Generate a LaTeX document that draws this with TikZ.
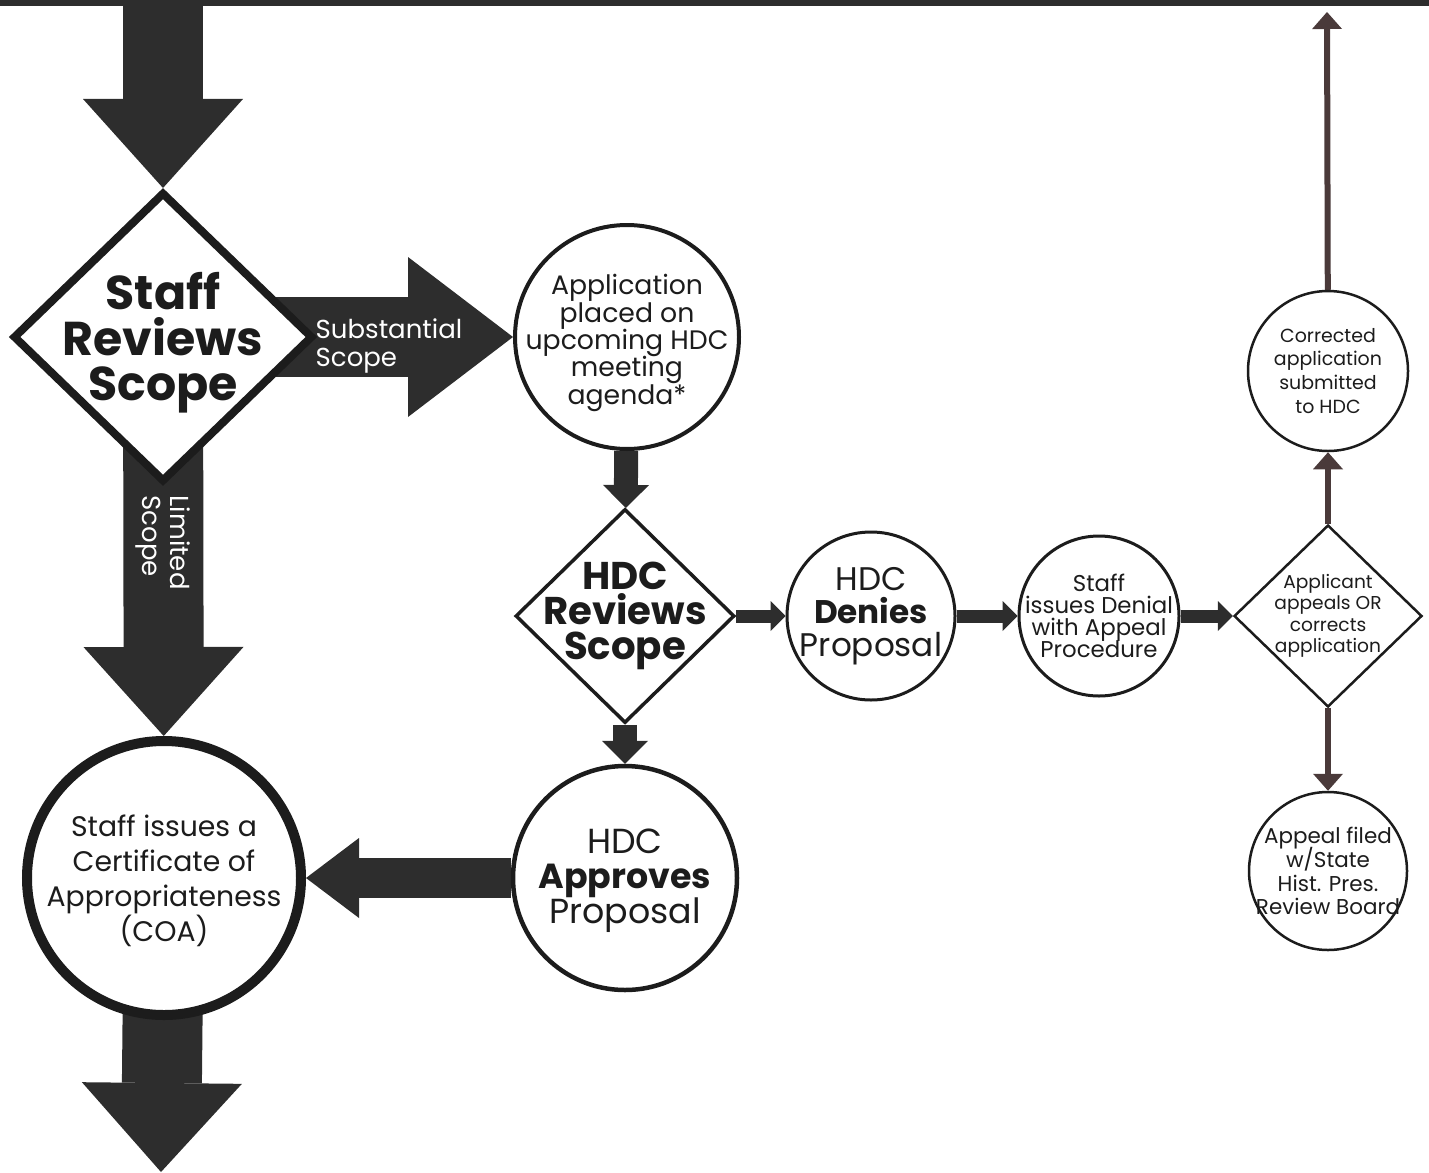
\documentclass[tikz,border=0pt]{standalone}
\usepackage{fontspec}
\setmainfont{Poppins}
\usepackage{tikz}
\usetikzlibrary{shapes.geometric,arrows.meta,backgrounds}

\definecolor{ink}{RGB}{28,28,28}
\definecolor{arrowgray}{RGB}{45,45,45}
\definecolor{brownink}{RGB}{74,58,58}

% font sizes of the labels
\lineskiplimit=-20pt
\newcommand{\fsStaff}{\bfseries\fontsize{13.5}{13}\selectfont}
\newcommand{\fsArrow}{\fontsize{7.4}{7.8}\selectfont}
\newcommand{\fsApp}{\fontsize{7.6}{7.8}\selectfont}
\newcommand{\fsHdc}{\bfseries\fontsize{11}{10}\selectfont}
\newcommand{\fsMid}{\fontsize{9.9}{10}\selectfont}
\newcommand{\fsDen}{\fontsize{9.3}{9.4}\selectfont}
\newcommand{\fsSmall}{\fontsize{6.5}{6.3}\selectfont}
\newcommand{\fsTiny}{\fontsize{5.3}{6.1}\selectfont}
\newcommand{\fsCorr}{\fontsize{5.4}{6.8}\selectfont}
\newcommand{\fsAppeal}{\fontsize{6.1}{6.8}\selectfont}
\newcommand{\fsCoa}{\fontsize{8.05}{10}\selectfont}

\begin{document}
\begin{tikzpicture}[
	box/.style={draw=ink, fill=white, inner sep=0pt},
	dia/.style={box, diamond},
	circ/.style={box, circle},
	lbl/.style={align=center, text=ink, inner sep=0pt},
	fatarrow/.style={draw=arrowgray, line width=0.8cm, -{Triangle[width=1.6cm,length=#1,line width=0pt]}},
	fatarrow/.default=0.89cm,
	midarrow/.style={draw=arrowgray, line width=0.4cm, -{Triangle[width=0.8cm,length=0.53cm,line width=0pt]}},
	smallarrow/.style={draw=arrowgray, line width=0.24cm, -{Triangle[width=0.46cm,length=0.23cm,line width=0pt]}},
	tinyarrow/.style={draw=arrowgray, line width=0.13cm, -{Triangle[width=0.3cm,length=0.15cm,line width=0pt]}},
	linkarrow/.style={draw=brownink, line width=0.06cm, -{Triangle[width=0.3cm,length=0.17cm,line width=0pt]}}]
	\useasboundingbox (0,0) rectangle (14.29,-11.72);
	\fill[arrowgray] (0,0) rectangle (14.29,-0.06);

	\coordinate (top) at (1.63,0);
	\coordinate (bottom) at (1.61,-11.72);
	\coordinate (exit) at (13.27,-0.12);

	% left column
	\node[dia, line width=0.08cm, minimum width=3.0cm, minimum height=2.9cm,
		label={[lbl, font=\fsStaff, yshift=-0.06cm]center:Staff\\Reviews\\Scope}] (staff) at (1.63,-3.37) {};
	\node[circ, line width=0.1cm, minimum size=2.74cm,
		label={[lbl, font=\fsCoa, yshift=-0.03cm]center:Staff issues a\\Certificate of\\Appropriateness\\(COA)}] (coa) at (1.64,-8.78) {};
	\node[lbl, text=white, align=left, anchor=west, font=\fsArrow] (subst) at (3.15,-3.46) {Substantial\\Scope};
	\node[lbl, text=white, align=left, anchor=west, rotate=-90, font=\fsArrow] (limited) at (1.63,-4.95) {Limited\\Scope};

	% HDC column
	\node[circ, line width=0.04cm, minimum size=2.24cm,
		label={[lbl, font=\fsApp, yshift=-0.06cm]center:Application\\placed on\\upcoming HDC\\meeting\\agenda*}] (apply) at (6.27,-3.37) {};
	\node[dia, line width=0.035cm, minimum width=2.19cm, minimum height=2.14cm,
		label={[lbl, font=\fsHdc]center:HDC\\Reviews\\Scope}] (hdcrev) at (6.25,-6.16) {};
	\node[circ, line width=0.045cm, minimum size=2.24cm,
		label={[lbl, font=\fsMid, yshift=-0.03cm]center:HDC\\\textbf{Approves}\\Proposal}] (approves) at (6.25,-8.78) {};

	% denial row
	\node[circ, line width=0.03cm, minimum size=1.68cm,
		label={[lbl, font=\fsDen]center:HDC\\\textbf{Denies}\\Proposal}] (denies) at (8.71,-6.16) {};
	\node[circ, line width=0.03cm, minimum size=1.60cm,
		label={[lbl, font=\fsSmall]center:Staff\\issues Denial\\with Appeal\\Procedure}] (denial) at (10.99,-6.16) {};
	\node[dia, line width=0.025cm, minimum width=1.88cm, minimum height=1.82cm,
		label={[lbl, font=\fsTiny]center:Applicant\\appeals OR\\corrects\\application}] (applicant) at (13.28,-6.16) {};

	% right column
	\node[circ, line width=0.025cm, minimum size=1.60cm,
		label={[lbl, font=\fsCorr]center:Corrected\\application\\submitted\\to HDC}] (corrected) at (13.28,-3.71) {};
	\node[circ, line width=0.025cm, minimum size=1.58cm,
		label={[lbl, font=\fsAppeal]center:Appeal filed\\w/State\\Hist. Pres.\\Review Board}] (appeal) at (13.28,-8.71) {};

	\begin{scope}[on background layer]
		\draw[fatarrow] (top) -- (staff);
		\draw[fatarrow=1.05cm] (staff.center) -- (apply);
		\draw[fatarrow] (staff.center) -- (coa);
		\draw[fatarrow] (coa.center) -- (bottom);
		\draw[smallarrow] (apply) -- (hdcrev);
		\draw[smallarrow] (hdcrev) -- (approves);
		\draw[midarrow] (approves) -- (coa);
		\draw[tinyarrow] (hdcrev) -- (denies);
		\draw[tinyarrow] (denies) -- (denial);
		\draw[tinyarrow] (denial) -- (applicant);
		\draw[linkarrow] (applicant) -- (corrected);
		\draw[linkarrow] (corrected) -- (exit);
		\draw[linkarrow] (applicant) -- (appeal);
	\end{scope}
\end{tikzpicture}
\end{document}
